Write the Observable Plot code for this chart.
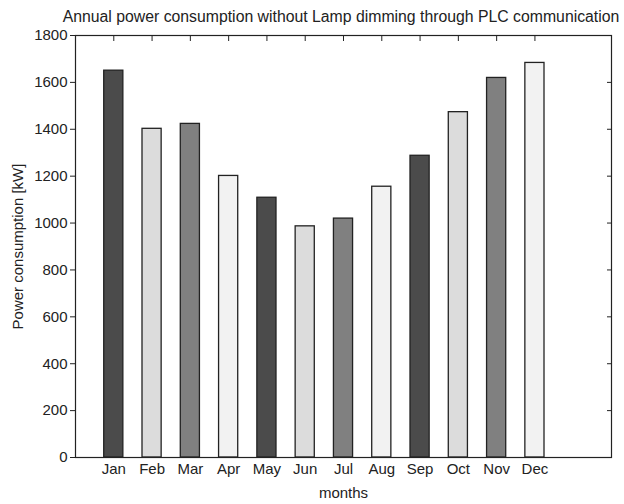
<!DOCTYPE html>
<html>
<head>
<meta charset="utf-8">
<script src="https://cdn.jsdelivr.net/npm/d3@7"></script>
<script src="https://cdn.jsdelivr.net/npm/@observablehq/plot@0.6"></script>
<style>
  body { margin: 0; background: #fff; }
  #title { height: 27px; box-sizing: border-box; padding: 9px 0 0 58px; text-align: center;
           font: 15.8px "Liberation Sans", Arial, sans-serif; color: #222; white-space: nowrap; line-height: 16px; }
</style>
</head>
<body>
<div id="title">Annual power consumption without Lamp dimming through PLC communication</div>
<div id="chart"></div>
<script>
const months = ["Jan","Feb","Mar","Apr","May","Jun","Jul","Aug","Sep","Oct","Nov","Dec"];
const power = [1650, 1402, 1423, 1201, 1108, 986, 1019, 1155, 1287, 1473, 1619, 1683];
const shades = ["#4b4b4b", "#dcdcdc", "#808080", "#f2f2f2"];
const yTicks = [0, 200, 400, 600, 800, 1000, 1200, 1400, 1600, 1800];
const xPositions = months.map((m, i) => i + 1);

const data = months.map((m, i) => ({month: m, pos: i + 1, value: power[i], shade: shades[i % 4]}));
const halfWidth = 0.25;

const chart = Plot.plot({
  width: 624,
  height: 477,
  marginLeft: 75,
  marginRight: 13,
  marginTop: 8,
  marginBottom: 47,
  style: {fontFamily: '"Liberation Sans", Arial, sans-serif', fontSize: "15px", color: "#222", background: "#fff"},
  x: {domain: [0, 14]},
  y: {domain: [0, 1800]},
  marks: [
    // inward ticks (bottom, top, right)
    Plot.axisX(xPositions, {anchor: "bottom", tickSize: 5, dy: -5, tickFormat: () => "", label: null, stroke: "#222"}),
    Plot.axisX(xPositions, {anchor: "top", tickSize: 5, dy: 5, tickFormat: () => "", label: null, stroke: "#222"}),
    Plot.axisY(yTicks, {anchor: "right", tickSize: 5, dx: -5, tickFormat: () => "", label: null, stroke: "#222"}),
    Plot.rectY(data, {x1: d => d.pos - halfWidth, x2: d => d.pos + halfWidth, y: "value", fill: "shade", stroke: "#222", strokeWidth: 1.3}),
    Plot.axisX(xPositions, {anchor: "bottom", tickSize: 0, tickPadding: 6, tickFormat: i => months[i - 1],
      label: "months", labelAnchor: "center", labelArrow: "none", labelOffset: 40, fill: "#222"}),
    Plot.axisY(yTicks, {anchor: "left", tickSize: 5, tickPadding: 3, tickFormat: d => String(d),
      label: "Power consumption [kW]", labelAnchor: "center", labelArrow: "none", labelOffset: 63, stroke: "#222", fill: "#222"}),
    Plot.frame({stroke: "#222", strokeWidth: 1.2})
  ]
});
document.getElementById("chart").append(chart);
</script>
</body>
</html>
